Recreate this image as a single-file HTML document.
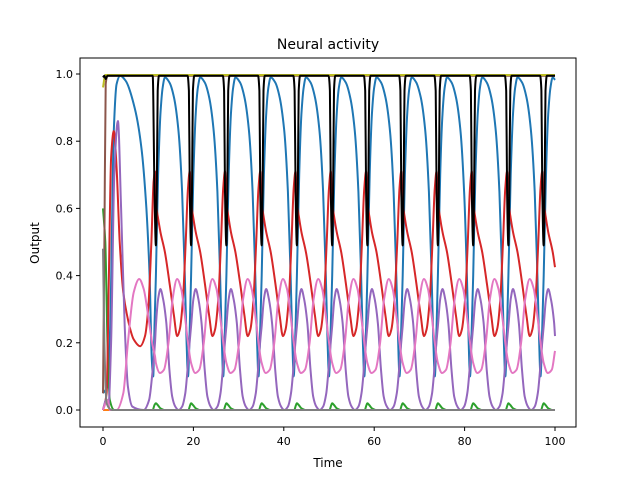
<!DOCTYPE html>
<html><head><meta charset="utf-8"><style>
body{margin:0;background:#fff}
svg{display:block;font-family:"DejaVu Sans","Liberation Sans",sans-serif}
</style></head><body>
<svg id="chart" width="640" height="480" viewBox="0 0 640 480">
<rect width="640" height="480" fill="#fff"/>
<text x="328" y="49" font-size="14" text-anchor="middle">Neural activity</text>
<text x="328" y="467" font-size="12" text-anchor="middle">Time</text>
<text x="0" y="0" font-size="12" text-anchor="middle" transform="translate(39,243) rotate(-90)">Output</text>
<g id="plot"></g>
<g id="axes"></g>
</svg>
<script>
const xTicks=[0,20,40,60,80,100];
const yTicks=[0,0.2,0.4,0.6,0.8,1.0];
const yTickLabels=["0.0","0.2","0.4","0.6","0.8","1.0"];
const dipTimes=[11.7,19.5,27.3,35.1,42.9,50.7,58.5,66.3,74.1,81.9,89.7,97.5];
// per-cycle shapes: [offset from dip time, value]
const blueCycle=[[0,0.4],[0.5,0.7],[1,0.88],[1.5,0.96],[2,0.99],[3,0.975],[4,0.93],[5,0.83],[5.8,0.65],[6.4,0.4],[6.8,0.2],[7.1,0.1],[7.5,0.25]];
const greenCycle=[[0,0.02],[0.4,0.015],[1,0.005],[2,0],[7.2,0],[7.6,0.015]];
const redCycle=[[0,0.62],[0.5,0.57],[1,0.53],[2,0.47],[3,0.38],[4,0.28],[4.7,0.22],[5.3,0.24],[6,0.33],[6.6,0.5],[7.1,0.66],[7.5,0.71]];
const purpleCycle=[[0,0.25],[0.5,0.33],[1,0.36],[1.6,0.33],[2.3,0.26],[3,0.12],[3.6,0.04],[4.3,0.01],[5,0],[5.8,0.01],[6.5,0.05],[7,0.12],[7.4,0.19]];
const pinkCycle=[[0,0.14],[0.9,0.11],[1.8,0.12],[2.8,0.2],[3.7,0.33],[4.7,0.39],[5.6,0.36],[6.5,0.27],[7.2,0.19]];
const blackCycle=[[0,0.49],[0.2,0.65],[0.4,0.95],[0.7,0.995],[7,0.995],[7.3,0.95],[7.5,0.65]];
// initial transients before first dip
const blueStart=[[0,0.05],[1,0.07],[1.7,0.3],[2.3,0.8],[3,0.97],[3.8,0.995],[5,0.98],[7,0.9],[8.5,0.78],[9.6,0.6],[10.3,0.4],[10.8,0.15],[11.1,0.1],[11.4,0.25]];
const greenStart=[[0,0.6],[0.5,0.5],[1,0.2],[1.5,0.03],[2.5,0],[11,0],[11.4,0.015]];
const redStart=[[0,0],[0.8,0.05],[1.3,0.4],[1.8,0.75],[2.4,0.83],[3,0.72],[3.7,0.5],[4.5,0.35],[5.5,0.27],[6.8,0.21],[8.2,0.19],[9.3,0.22],[10,0.3],[10.7,0.5],[11.2,0.68],[11.5,0.71]];
const purpleStart=[[0,0],[0.7,0.03],[1.2,0.01],[1.8,0.2],[2.5,0.7],[3.3,0.86],[4,0.6],[4.8,0.25],[5.5,0.07],[6.5,0.01],[9,0],[10.2,0.03],[11,0.12],[11.5,0.2]];
const pinkStart=[[0,0],[1,0.03],[1.5,0],[3,0],[4.5,0.05],[5.5,0.2],[6.8,0.35],[8,0.39],[9,0.36],[10,0.28],[11,0.19],[11.5,0.16]];
const blackStart=[[0,0.99],[0.3,0.995],[0.6,0.985],[1,0.995],[11,0.995],[11.4,0.65]];
const orangeSeries=[[0,0],[100,0]];
const brownSeries=[[0,0.05],[0.3,0.5],[0.6,0.97],[1,0.995],[100,0.995]];
const graySeries=[[0,0.48],[0.3,0.2],[0.8,0.02],[2,0],[100,0]];
const oliveSeries=[[0,0.96],[0.5,0.997],[100,0.997]];

const X0=80,X1=576,Y0=58,Y1=427;
function xs(t){return 103+(t/100)*452;}
function ys(v){return 410-v*336;}
const NS="http://www.w3.org/2000/svg";
function build(start,cycle){
  const pts=start.slice();
  dipTimes.forEach(T=>{cycle.forEach(p=>{pts.push([T+p[0],p[1]]);});});
  const out=[];
  for(let i=0;i<pts.length;i++){
    if(pts[i][0]<=100){out.push(pts[i]);}
    else{const a=pts[i-1],b=pts[i];const f=(100-a[0])/(b[0]-a[0]);out.push([100,a[1]+f*(b[1]-a[1])]);break;}
  }
  return out;
}
// monotone cubic (Fritsch-Carlson) path, no overshoot
function pathD(pts){
  const P=pts.map(p=>[xs(p[0]),ys(p[1])]);
  const n=P.length;
  if(n<3){return 'M'+P.map(p=>p[0].toFixed(1)+','+p[1].toFixed(1)).join(' L');}
  const dx=[],sl=[];
  for(let i=0;i<n-1;i++){dx.push(P[i+1][0]-P[i][0]);sl.push((P[i+1][1]-P[i][1])/(dx[i]||1e-6));}
  const m=[sl[0]];
  for(let i=1;i<n-1;i++){
    if(sl[i-1]*sl[i]<=0){m.push(0);}
    else{const w1=2*dx[i]+dx[i-1],w2=dx[i]+2*dx[i-1];m.push((w1+w2)/(w1/sl[i-1]+w2/sl[i]));}
  }
  m.push(sl[n-2]);
  let d='M'+P[0][0].toFixed(1)+','+P[0][1].toFixed(1);
  for(let i=0;i<n-1;i++){
    const h=dx[i]/3;
    d+=' C'+(P[i][0]+h).toFixed(1)+','+(P[i][1]+m[i]*h).toFixed(1)+' '+(P[i+1][0]-h).toFixed(1)+','+(P[i+1][1]-m[i+1]*h).toFixed(1)+' '+P[i+1][0].toFixed(1)+','+P[i+1][1].toFixed(1);
  }
  return d;
}
const plot=document.getElementById('plot');
const axes=document.getElementById('axes');
function line(pts,color,name){
  const el=document.createElementNS(NS,'path');
  el.setAttribute('d',pathD(pts));
  el.setAttribute('fill','none');el.setAttribute('stroke',color);el.setAttribute('stroke-width','2');
  el.setAttribute('stroke-linejoin','round');
  
  
  plot.appendChild(el);
}
line(build(blueStart,blueCycle),'#1f77b4','series-blue');
line(orangeSeries,'#ff7f0e','series-orange');
line(build(greenStart,greenCycle),'#2ca02c','series-green');
line(build(redStart,redCycle),'#d62728','series-red');
line(build(purpleStart,purpleCycle),'#9467bd','series-purple');
line(brownSeries,'#8c564b','series-brown');
line(build(pinkStart,pinkCycle),'#e377c2','series-pink');
line(graySeries,'#7f7f7f','series-gray');
line(oliveSeries,'#bcbd22','series-olive');
line(build(blackStart,blackCycle),'#000000','series-black');

const frame=document.createElementNS(NS,'rect');
frame.setAttribute('x',X0);frame.setAttribute('y',Y0);frame.setAttribute('width',X1-X0);frame.setAttribute('height',Y1-Y0);
frame.setAttribute('fill','none');frame.setAttribute('stroke','#000');frame.setAttribute('stroke-width','1');


axes.appendChild(frame);
xTicks.forEach(t=>{
  const x=xs(t);
  const tk=document.createElementNS(NS,'line');
  tk.setAttribute('x1',x);tk.setAttribute('x2',x);tk.setAttribute('y1',Y1);tk.setAttribute('y2',Y1+4);tk.setAttribute('stroke','#000');
  
  
  axes.appendChild(tk);
  const tx=document.createElementNS(NS,'text');
  tx.setAttribute('x',x);tx.setAttribute('y',Y1+18);tx.setAttribute('font-size','11');tx.setAttribute('text-anchor','middle');
  tx.textContent=String(t);
  
  
  axes.appendChild(tx);
});
yTicks.forEach((v,i)=>{
  const y=ys(v);
  const tk=document.createElementNS(NS,'line');
  tk.setAttribute('x1',X0-4);tk.setAttribute('x2',X0);tk.setAttribute('y1',y);tk.setAttribute('y2',y);tk.setAttribute('stroke','#000');
  
  
  axes.appendChild(tk);
  const tx=document.createElementNS(NS,'text');
  tx.setAttribute('x',X0-7);tx.setAttribute('y',y+4);tx.setAttribute('font-size','11');tx.setAttribute('text-anchor','end');
  tx.textContent=yTickLabels[i];
  
  
  axes.appendChild(tx);
});
</script>
</body></html>
